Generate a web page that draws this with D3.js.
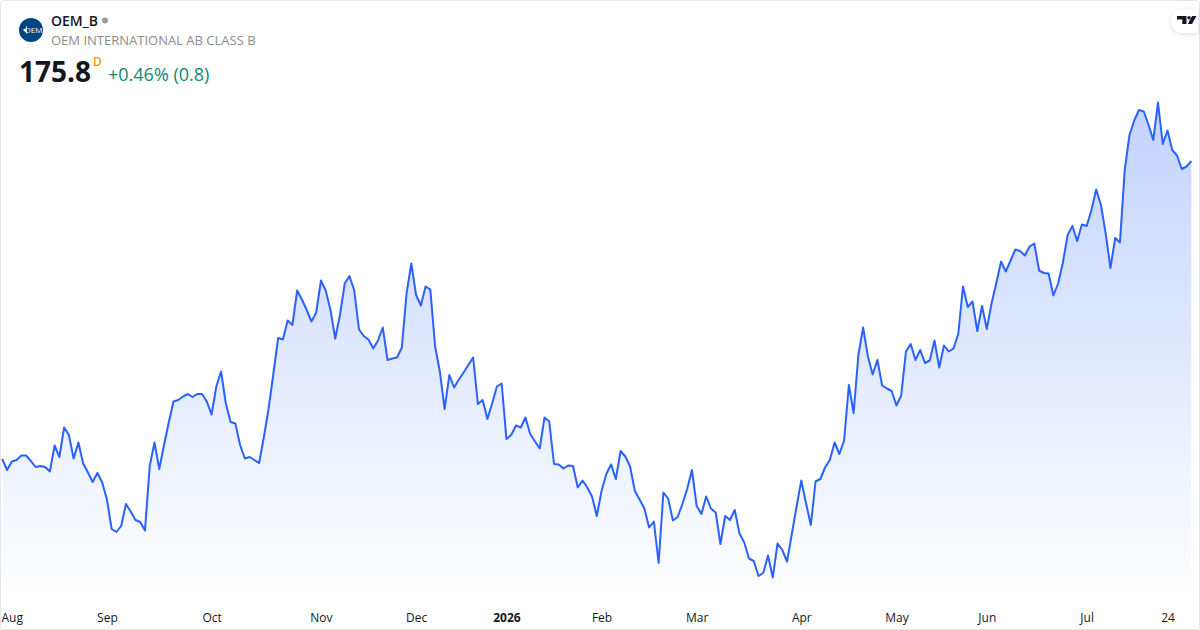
<!DOCTYPE html>
<html>
<head>
<meta charset="utf-8">
<script src="https://cdn.jsdelivr.net/npm/d3@7/dist/d3.min.js"></script>
<style>
    html, body { margin: 0; padding: 0; background: #fff; }
    text { font-family: 'Open Sans', 'Noto Sans', sans-serif; }
</style>
</head>
<body>
<div id="chart"></div>
<script>
// Daily closes
const closes = [
    116.2, 114.0, 115.7, 116.0, 116.9, 116.9, 115.8, 114.6, 114.8, 114.6,
    113.7, 118.9, 116.6, 122.5, 121.0, 116.3, 119.5, 115.3, 113.5, 111.6,
    113.4, 111.5, 108.1, 102.2, 101.6, 102.8, 107.2, 105.7, 104.0, 103.6,
    101.9, 114.8, 119.5, 114.2, 119.0, 123.5, 127.7, 128.0, 128.7, 129.2,
    128.6, 129.2, 129.2, 127.7, 125.1, 130.7, 133.7, 127.3, 123.6, 123.3,
    119.0, 116.3, 116.6, 116.0, 115.4, 120.6, 126.3, 133.3, 140.4, 140.1,
    143.9, 143.0, 149.9, 148.1, 146.0, 143.7, 145.5, 151.9, 149.9, 146.0,
    140.3, 145.0, 151.3, 152.8, 149.9, 142.1, 140.8, 140.1, 138.3, 139.9,
    142.5, 136.0, 136.3, 136.5, 138.5, 149.3, 155.3, 149.0, 146.9, 150.7,
    150.1, 138.7, 133.7, 126.2, 133.0, 130.5, 132.1, 133.5, 135.0, 136.5,
    127.2, 128.0, 124.2, 127.3, 130.7, 131.3, 120.2, 121.0, 122.9, 122.5,
    124.5, 121.2, 119.7, 118.3, 124.5, 123.7, 115.2, 115.1, 114.3, 114.9,
    114.8, 110.5, 111.9, 110.5, 108.7, 104.8, 109.8, 113.2, 115.1, 112.2,
    117.8, 116.7, 114.7, 109.8, 108.1, 106.3, 102.5, 103.7, 95.4, 109.5,
    108.3, 103.9, 104.6, 107.2, 110.2, 114.0, 106.8, 105.2, 108.7, 106.3,
    105.5, 99.2, 104.8, 104.0, 106.0, 101.3, 99.5, 96.3, 95.8, 92.8,
    93.4, 96.9, 92.5, 99.3, 98.0, 95.7, 101.2, 106.7, 111.9, 107.3,
    103.0, 111.7, 112.2, 114.5, 116.0, 119.5, 117.2, 119.9, 131.0, 125.4,
    137.0, 142.5, 136.7, 133.1, 136.0, 130.9, 130.3, 129.8, 126.9, 128.9,
    137.7, 139.2, 136.0, 138.0, 135.4, 135.9, 139.9, 134.5, 138.9, 137.7,
    138.3, 141.2, 150.7, 146.6, 147.7, 141.8, 146.8, 142.2, 147.3, 151.4,
    155.7, 153.7, 155.9, 158.1, 157.8, 156.9, 158.7, 159.3, 153.9, 153.4,
    153.3, 148.9, 151.3, 155.5, 161.0, 162.8, 159.8, 163.1, 162.8, 166.0,
    170.1, 167.0, 161.3, 154.4, 160.4, 159.5, 174.0, 181.0, 183.9, 186.0,
    185.7, 183.1, 180.0, 187.5, 179.2, 181.9, 178.0, 176.9, 174.2, 174.7,
    175.8
];

// Position of each axis label in the series, and its text
const tickIndex = [0, 22, 44, 67, 87, 106, 126, 146, 168, 188, 207, 228, 245];
const tickLabels = ['Aug', 'Sep', 'Oct', 'Nov', 'Dec', '2026', 'Feb', 'Mar', 'Apr', 'May', 'Jun', 'Jul', '24'];

const width = 1200;
const height = 630;
const lineColor = '#2962FF';
const plotBottom = 601;

const svg = d3.select('#chart')
    .append('svg')
    .attr('width', width)
    .attr('height', height)
    .style('display', 'block');

const x = d3.scaleLinear().domain([0, closes.length - 1]).range([2.3, 1191.3]);
const y = d3.scaleLinear().domain([82, 208]).range([630, 0]);

// Fill fades from the highest close down to the axis
const defs = svg.append('defs');
const fade = defs.append('linearGradient')
    .attr('id', 'fade')
    .attr('gradientUnits', 'userSpaceOnUse')
    .attr('x1', 0).attr('x2', 0)
    .attr('y1', y(d3.max(closes)))
    .attr('y2', plotBottom);
fade.append('stop').attr('offset', 0).attr('stop-color', lineColor).attr('stop-opacity', 0.28);
fade.append('stop').attr('offset', 1).attr('stop-color', lineColor).attr('stop-opacity', 0);

const area = d3.area()
    .x((d, i) => x(i))
    .y0(plotBottom)
    .y1(d => y(d));

const line = d3.line()
    .x((d, i) => x(i))
    .y(d => y(d));

svg.append('path')
    .attr('d', area(closes))
    .attr('fill', 'url(#fade)');

svg.append('path')
    .attr('d', line(closes))
    .attr('fill', 'none')
    .attr('stroke', lineColor)
    .attr('stroke-width', 2)
    .attr('stroke-linejoin', 'round');

// Time axis, no line or tick marks
const axis = d3.axisBottom(x)
    .tickValues(tickIndex)
    .tickFormat((d, i) => tickLabels[i])
    .tickSize(0);

const axisG = svg.append('g')
    .attr('transform', `translate(0, ${plotBottom})`)
    .call(axis);
axisG.select('.domain').remove();
axisG.selectAll('text')
    .attr('y', 0)
    .attr('dy', '21')
    .style('font-size', '12px')
    .style('font-family', "'Open Sans', 'Noto Sans', sans-serif")
    .style('fill', '#131722')
    .style('font-weight', (d, i) => tickLabels[i] === '2026' ? 700 : 400)
    .attr('text-anchor', (d, i) => i === 0 ? 'start' : 'middle')
    .attr('x', (d, i) => i === 0 ? 1 - x(d) : 0);

// Frame
svg.append('rect')
    .attr('x', 0.5).attr('y', 0.5)
    .attr('width', width - 1).attr('height', height - 1)
    .attr('rx', 3)
    .attr('fill', 'none')
    .attr('stroke', '#e6e6e6');

// Logo
svg.append('circle').attr('cx', 31).attr('cy', 30).attr('r', 12).attr('fill', '#004481');
svg.append('text').attr('x', 33.5).attr('y', 33)
    .attr('text-anchor', 'middle')
    .style('font-size', '8px').style('fill', '#fff')
    .text('OEM');
svg.append('path')
    .attr('d', 'M23 30l2.5-2v4zM26 26.5h1v7h-1z')
    .attr('fill', '#fff');

// Header
svg.append('text').attr('x', 51).attr('y', 26)
    .style('font-size', '14px').style('font-weight', 600).style('fill', '#131722')
    .text('OEM_B');
svg.append('circle').attr('cx', 105).attr('cy', 20.5).attr('r', 3).attr('fill', '#9b9b9b');
svg.append('text').attr('x', 51).attr('y', 45)
    .style('font-size', '13px').style('fill', '#8c8c8c')
    .text('OEM INTERNATIONAL AB CLASS B');
svg.append('text').attr('x', 19).attr('y', 82)
    .style('font-size', '28px').style('font-weight', 700).style('fill', '#131722')
    .text('175.8');
svg.append('text').attr('x', 93).attr('y', 66)
    .style('font-size', '12px').style('font-weight', 600).style('fill', '#ff9800')
    .text('D');
svg.append('text').attr('x', 108).attr('y', 81)
    .style('font-size', '18px').style('fill', '#0a8a72')
    .text('+0.46% (0.8)');

// TradingView badge in the corner
const badge = defs.append('filter').attr('id', 'badgeShadow')
    .attr('x', '-30%').attr('y', '-30%').attr('width', '160%').attr('height', '160%');
badge.append('feDropShadow')
    .attr('dx', 0).attr('dy', 1).attr('stdDeviation', 2)
    .attr('flood-color', '#000').attr('flood-opacity', 0.15);
svg.append('path')
    .attr('d', 'M1198 9H1183a12 12 0 0 0 0 24H1198z')
    .attr('fill', '#fff')
    .attr('filter', 'url(#badgeShadow)');
svg.append('path')
    .attr('d', 'M1177 16h9.5v8h-4.2v-4.4h-5.3zM1192 16h4.5l-4.5 8h-4.2z')
    .attr('fill', '#131722');
svg.append('circle').attr('cx', 1189).attr('cy', 17.8).attr('r', 1.7).attr('fill', '#131722');
</script>
</body>
</html>
